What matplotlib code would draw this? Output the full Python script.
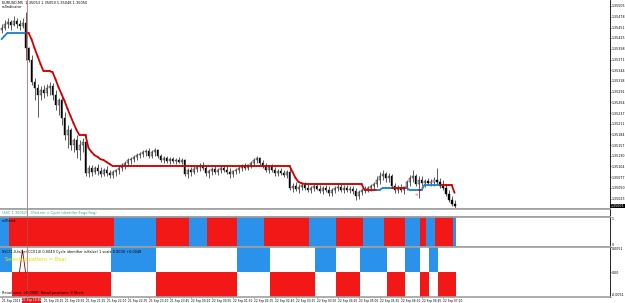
import matplotlib
matplotlib.use("Agg")
import matplotlib.pyplot as plt
import matplotlib.transforms as mtransforms
from matplotlib.collections import LineCollection
import numpy as np

plt.rcParams['font.family'] = ['Liberation Sans Narrow', 'DejaVu Sans']

# ---------------- data (points above 1.35000, 1 point = 0.00001) ----------------
BASE = 1.35000
open_pts = [445, 450, 460, 465, 458, 468, 460, 455, 462, 400,
            370, 315, 300, 282, 295, 288, 300, 305, 282, 258,
            270, 225, 182, 195, 158, 170, 145, 158, 165, 88,
            100, 90, 100, 92, 85, 95, 88, 82, 90, 95,
            100, 108, 112, 120, 122, 128, 132, 135, 140, 142,
            130, 140, 145, 130, 120, 125, 118, 122, 118, 120,
            115, 120, 85, 95, 90, 98, 102, 105, 100, 88,
            92, 98, 90, 95, 100, 95, 90, 85, 92, 95,
            100, 105, 100, 108, 112, 120, 125, 112, 105, 95,
            102, 95, 88, 92, 88, 82, 90, 50, 55, 48,
            52, 58, 50, 45, 50, 55, 48, 42, 50, 45,
            38, 45, 50, 52, 45, 50, 45, 48, 42, 30,
            40, 45, 48, 50, 55, 60, 70, 80, 85, 75,
            80, 55, 45, 50, 45, 52, 65, 75, 80, 60,
            70, 62, 68, 62, 65, 70, 65, 55, 50, 35,
            20, 10]
close_pts = [450, 460, 465, 458, 468, 460, 455, 462, 400, 370,
             315, 300, 282, 295, 288, 300, 305, 282, 258, 270,
             225, 182, 195, 158, 170, 145, 158, 165, 88, 100,
             90, 100, 92, 85, 95, 88, 82, 90, 95, 100,
             108, 112, 120, 122, 128, 132, 135, 140, 142, 130,
             140, 145, 130, 120, 125, 118, 122, 118, 120, 115,
             120, 85, 95, 90, 98, 102, 105, 100, 88, 92,
             98, 90, 95, 100, 95, 90, 85, 92, 95, 100,
             105, 100, 108, 112, 120, 125, 112, 105, 95, 102,
             95, 88, 92, 88, 82, 90, 50, 55, 48, 52,
             58, 50, 45, 50, 55, 48, 42, 50, 45, 38,
             45, 50, 52, 45, 50, 45, 48, 42, 30, 40,
             45, 48, 50, 55, 60, 70, 80, 85, 75, 80,
             55, 45, 50, 45, 52, 65, 75, 80, 60, 70,
             62, 68, 62, 65, 70, 65, 55, 50, 35, 20,
             10, 5]
high_pts = [460, 470, 475, 470, 480, 475, 470, 475, 490, 402,
            382, 325, 310, 305, 308, 310, 315, 312, 295, 275,
            282, 240, 208, 200, 175, 182, 170, 175, 182, 108,
            108, 105, 110, 102, 100, 105, 95, 95, 98, 108,
            112, 118, 125, 128, 132, 138, 140, 145, 148, 150,
            145, 150, 148, 135, 130, 130, 128, 128, 125, 128,
            125, 122, 100, 102, 105, 108, 112, 115, 108, 98,
            102, 105, 100, 105, 108, 105, 100, 95, 100, 105,
            110, 112, 110, 118, 125, 130, 128, 120, 112, 108,
            110, 102, 98, 100, 95, 95, 100, 62, 65, 60,
            62, 65, 60, 55, 60, 62, 58, 55, 58, 55,
            50, 55, 60, 60, 58, 58, 55, 55, 50, 45,
            50, 55, 55, 60, 65, 80, 90, 95, 90, 88,
            85, 62, 58, 60, 55, 70, 82, 95, 85, 80,
            80, 72, 75, 72, 78, 100, 75, 70, 60, 45,
            30, 20]
low_pts = [438, 445, 450, 445, 455, 450, 445, 450, 370, 365,
           308, 270, 228, 270, 275, 280, 282, 270, 245, 232,
           208, 170, 150, 145, 140, 125, 120, 140, 80, 78,
           80, 85, 82, 78, 80, 80, 75, 75, 80, 85,
           92, 98, 105, 110, 115, 120, 125, 128, 130, 125,
           125, 130, 125, 115, 112, 112, 110, 112, 110, 112,
           110, 80, 75, 80, 85, 90, 92, 95, 80, 75,
           82, 85, 82, 88, 90, 85, 75, 78, 85, 88,
           92, 95, 95, 100, 105, 112, 108, 100, 90, 88,
           90, 80, 80, 82, 78, 75, 45, 40, 42, 38,
           45, 45, 40, 38, 42, 45, 38, 35, 40, 30,
           30, 38, 42, 40, 38, 40, 38, 35, 20, 22,
           32, 38, 40, 42, 48, 52, 60, 70, 65, 65,
           50, 38, 38, 40, 35, 45, 55, 65, 55, 25,
           55, 52, 58, 55, 55, 60, 50, 45, 30, 15,
           5, 0]
trend_line_pts = [422, 430, 438, 438, 438, 438, 438, 438, 438, 438,
                  422, 400, 380, 360, 342, 342, 342, 340, 322, 302,
                  285, 268, 248, 230, 212, 195, 182, 182, 182, 150,
                  140, 132, 128, 122, 120, 115, 110, 105, 105, 105,
                  105, 105, 105, 105, 105, 105, 105, 105, 105, 105,
                  105, 105, 105, 105, 105, 105, 105, 105, 105, 105,
                  105, 105, 105, 105, 105, 105, 105, 105, 105, 105,
                  105, 105, 105, 105, 105, 105, 105, 105, 105, 105,
                  105, 105, 105, 105, 105, 105, 105, 105, 105, 105,
                  105, 105, 105, 105, 105, 105, 105, 90, 75, 65,
                  62, 60, 60, 60, 60, 60, 60, 60, 60, 60,
                  60, 60, 60, 60, 60, 60, 60, 60, 60, 60,
                  60, 45, 45, 45, 45, 45, 45, 50, 50, 50,
                  50, 50, 50, 50, 50, 50, 45, 45, 45, 45,
                  45, 58, 58, 58, 58, 58, 58, 58, 58, 58,
                  58, 38]
# runs of (direction, number of bars): +1 = up (blue), -1 = down (red)
trend_runs = [(1, 9), (-1, 117), (1, 5), (-1, 5), (1, 4), (-1, 1), (1, 6), (-1, 5)]
panel1_runs = [(1, 3), (-1, 35), (1, 14), (-1, 11), (1, 6), (-1, 10), (1, 9), (-1, 15),
               (1, 9), (-1, 9), (1, 7), (-1, 7), (1, 5), (-1, 2), (1, 3), (-1, 6), (1, 1)]
panel2_runs = [(1, 4), (-1, 33), (1, 15), (-1, 27), (1, 11), (-1, 15), (1, 7), (-1, 8),
               (1, 9), (-1, 6), (1, 5), (-1, 3), (1, 3), (-1, 6)]
cycle_bars = [6, 7, 8]
cycle_vals = [0.0, 0.88, 0.0]

price_ticks = [1.35505, 1.35478, 1.35451, 1.35425, 1.35398, 1.35371, 1.35344, 1.35318,
               1.35291, 1.35264, 1.35237, 1.35211, 1.35184, 1.35157, 1.35130, 1.35104,
               1.35077, 1.35050, 1.35023]
time_tick_bars = [0, 14, 21, 28, 35, 42, 49, 56, 63, 70, 77, 84, 91, 98, 105,
                  112, 119, 126, 133, 140, 147]
time_tick_labels = ["21 Sep 2013", "21 Sep 20:15", "21 Sep 20:50",
                    "21 Sep 21:25", "21 Sep 22:00", "21 Sep 22:35", "21 Sep 23:10",
                    "21 Sep 23:45", "22 Sep 00:20", "22 Sep 00:55", "22 Sep 01:30",
                    "22 Sep 02:05", "22 Sep 02:40", "22 Sep 03:15", "22 Sep 03:50",
                    "22 Sep 04:25", "22 Sep 05:00", "22 Sep 05:35", "22 Sep 06:10",
                    "22 Sep 06:45", "22 Sep 07:20"]
crosshair_bar = 8.5
crosshair_label = "21 Sep 19:45"

# ---------------- helpers ----------------
def expand(runs):
    out = []
    for d, k in runs:
        out += [d] * k
    return np.array(out)

n = len(open_pts)
x = np.arange(n)
o = BASE + np.array(open_pts) * 1e-5
c = BASE + np.array(close_pts) * 1e-5
h = BASE + np.array(high_pts) * 1e-5
l = BASE + np.array(low_pts) * 1e-5
tl = BASE + np.array(trend_line_pts) * 1e-5
trend = expand(trend_runs)
p1 = expand(panel1_runs)
p2 = expand(panel2_runs)

RED = "#f21818"
BLUE = "#2a92ea"
LRED = "#d00000"
LBLUE = "#1c84d8"
GRAY = "#a0a0a0"
FS = 2.3   # right-axis labels
FX = 2.1   # time labels
FT = 2.5   # in-chart texts

fig = plt.figure(figsize=(6.25, 3.03), dpi=100)
fig.patch.set_facecolor("white")
W = 610 / 625
ax = fig.add_axes([0, 94 / 303, W, 209 / 303])
ax0 = fig.add_axes([0, 86 / 303, W, 8 / 303])
ax1 = fig.add_axes([0, 56 / 303, W, 30 / 303])
ax2 = fig.add_axes([0, 6 / 303, W, 50 / 303])

XL = (-0.5, 202.8)
for a in (ax, ax0, ax1, ax2):
    a.set_xlim(*XL)
    a.set_facecolor("white")
    a.spines["left"].set_visible(False)
    a.spines["right"].set_color("black")
    a.spines["right"].set_linewidth(0.6)
    a.spines["top"].set_color(GRAY)
    a.spines["bottom"].set_color(GRAY)
    a.spines["top"].set_linewidth(1.2)
    a.spines["bottom"].set_linewidth(1.2)
    a.yaxis.tick_right()
    a.tick_params(axis="y", labelsize=FS, length=1.0, width=0.4, pad=0.4, colors="black")
    a.tick_params(axis="x", labelsize=FX, length=1.0, width=0.4, pad=0.4)
    a.set_xticks([])
    a.axvline(crosshair_bar, color="#b05050", lw=0.5, zorder=5)
ax.spines["top"].set_visible(False)

# ---------------- main chart ----------------
ax.set_ylim(1.349975, 1.35520)
ax.vlines(x, l, h, color="black", lw=0.45, zorder=2)
bull = c >= o
body_bot = np.minimum(o, c)
body_h = np.maximum(np.abs(c - o), 0.000008)
ax.bar(x[bull], body_h[bull], bottom=body_bot[bull], width=0.62, color="white",
       edgecolor="black", lw=0.3, zorder=3)
ax.bar(x[~bull], body_h[~bull], bottom=body_bot[~bull], width=0.62, color="black",
       edgecolor="black", lw=0.3, zorder=3)

pts = np.column_stack([x, tl])
segs = [pts[i - 1:i + 1] for i in range(1, n)]
cols = [LBLUE if trend[i] > 0 else LRED for i in range(1, n)]
ax.add_collection(LineCollection(segs, colors=cols, linewidths=1.3, zorder=4,
                                 capstyle="round", joinstyle="round"))

ax.set_yticks(price_ticks)
ax.set_yticklabels([f"{v:.5f}" for v in price_ticks])

ax.text(0.003, 0.997, "EURUSD,M5  1.35053 1.35059 1.35048 1.35050", transform=ax.transAxes,
        fontsize=FT, va="top", ha="left")
ax.text(0.003, 0.976, "sslIndicator", transform=ax.transAxes, fontsize=FT, va="top", ha="left")
ax.text(138.5, BASE + 32e-5, "\u2606", fontsize=3, color="red", ha="center", va="center",
        family="DejaVu Sans")

btr = mtransforms.blended_transform_factory(ax.transAxes, ax.transData)
ax.text(1.001, c[-1], f"{c[-1]:.5f}", transform=btr, fontsize=FS, color="white",
        ha="left", va="center", clip_on=False,
        bbox=dict(facecolor="black", edgecolor="none", pad=0.25), zorder=10)

# ---------------- tiny subwindow with label ----------------
ax0.set_ylim(0, 1)
ax0.set_yticks([])
ax0.text(0.003, 0.5, "(SSC 1.35052) - (Pattern = Cycle identifier Engulfing)",
         transform=ax0.transAxes, fontsize=FT, color="#22a88c", va="center", ha="left")

# ---------------- subwindow 1 ----------------
ax1.set_ylim(0, 1)
ax1.bar(x, np.ones(n), width=0.74, color=[BLUE if v > 0 else RED for v in p1], lw=0, zorder=2)
ax1.set_yticks([0, 1])
ax1.set_yticklabels(["0", "1"])
yl = ax1.get_yticklabels()
yl[0].set_va("bottom")
yl[1].set_va("top")
ax1.text(0.003, 0.93, "sslTrend", transform=ax1.transAxes, fontsize=FT, va="top", ha="left", zorder=6)

# ---------------- subwindow 2 ----------------
ax2.set_ylim(-1, 1)
ax2.bar(x, p2.astype(float), width=0.74, color=[BLUE if v > 0 else RED for v in p2], lw=0, zorder=2)
ax2.plot(cycle_bars, cycle_vals, color="#8b0000", lw=0.6, zorder=4)
ax2.set_yticks([-1, 0, 1])
ax2.set_yticklabels(["-0.0051", "0.00", "0.0051"])
yl2 = ax2.get_yticklabels()
yl2[0].set_va("bottom")
yl2[2].set_va("top")
ax2.text(0.003, 0.94, "SSC(1,0,false) CCI(14) 0.0049 Cycle identifier is(false) 1 scale 0.0000 +0.0048",
         transform=ax2.transAxes, fontsize=FT, va="top", ha="left", zorder=6)
ax2.text(0.008, 0.80, "Selected pattern = Bear", transform=ax2.transAxes, fontsize=3.6,
         color="#e8e000", va="top", ha="left", zorder=6)
ax2.text(0.003, 0.04, "Retail sent  +0.0000  Retail positions: 0 Short",
         transform=ax2.transAxes, fontsize=FT, va="bottom", ha="left", zorder=6)

ax2.set_xticks(time_tick_bars)
ax2.set_xticklabels(time_tick_labels)
for lab in ax2.get_xticklabels():
    lab.set_ha("left")
btx = mtransforms.blended_transform_factory(ax2.transData, ax2.transAxes)
ax2.text(crosshair_bar + 1.5, -0.03, crosshair_label, transform=btx, fontsize=FX, color="white",
         ha="center", va="top", clip_on=False,
         bbox=dict(facecolor="#e02020", edgecolor="none", pad=0.3), zorder=10)

fig.savefig("out.png", dpi=100, facecolor="white")
